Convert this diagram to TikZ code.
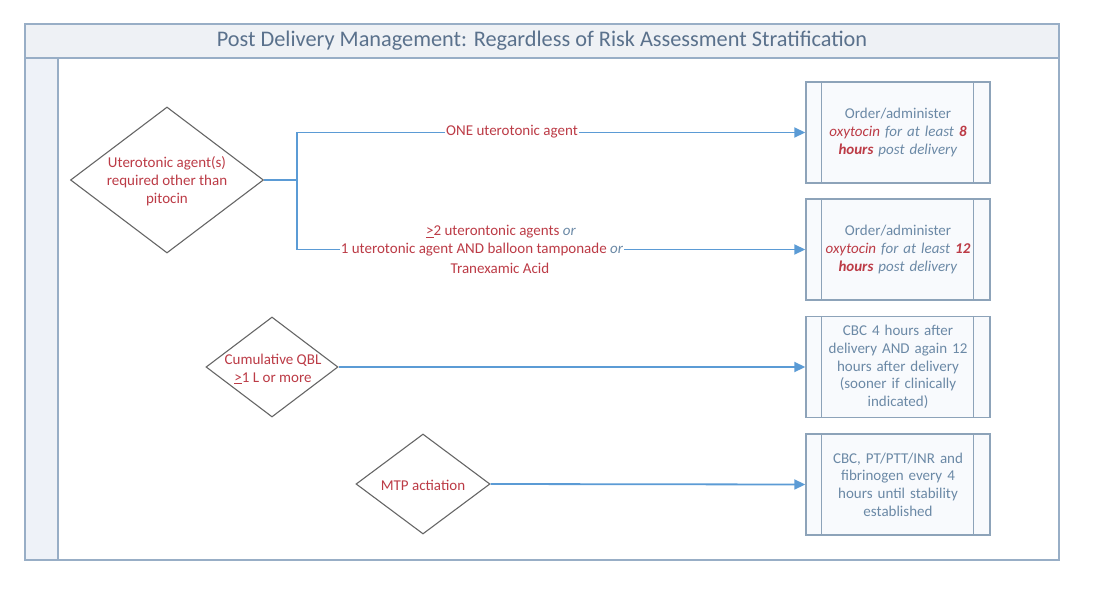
\documentclass[tikz,border=0pt]{standalone}
\usepackage{fontspec}
\setmainfont{Carlito}
\usetikzlibrary{shapes.geometric,arrows.meta,calc}
\definecolor{framec}{HTML}{98AEC6}
\definecolor{lanefill}{HTML}{EEF2F8}
\definecolor{titlefill}{HTML}{EEF1F5}
\definecolor{titletext}{HTML}{5A718C}
\definecolor{boxline}{HTML}{8DA3B9}
\definecolor{boxtext}{HTML}{6B89A6}
\definecolor{boxfill}{HTML}{F8FAFD}
\definecolor{dtext}{HTML}{BC3B46}
\definecolor{dline}{HTML}{666666}
\definecolor{arrowc}{HTML}{5B9BD5}
\newcommand{\rd}[1]{\textcolor{dtext}{#1}}
\begin{document}
\begin{tikzpicture}[x=1pt,y=-1pt,
  every node/.style={font=\fontsize{15}{18}\selectfont},
  decision/.style={diamond, draw=dline, line width=1.1pt, fill=white, inner sep=0pt},
  dlabel/.style={align=center, text=dtext, inner sep=0pt},
  procbox/.style={rectangle, draw=boxline, line width=1.4pt, fill=boxfill,
    minimum width=184pt, minimum height=101pt, inner sep=0pt, text width=152pt,
    align=center, text=boxtext, font=\fontsize{15}{17.7}\selectfont},
  flow/.style={draw=arrowc, line width=1.8pt, -{Triangle[length=11pt,width=10pt]}},
  flowplain/.style={draw=arrowc, line width=1.8pt},
  elabel/.style={text=dtext, inner sep=1pt, align=center}]
\useasboundingbox (0,0) rectangle (1095,592);
% swimlane frame
\path[fill=titlefill] (25,24) rectangle (1059,58);
\path[fill=lanefill] (25,58) rectangle (58,560);
\draw[framec, line width=1.4pt] (25,24) rectangle (1059,560);
\draw[framec, line width=1.4pt] (25,58) -- (1059,58);
\draw[framec, line width=1.4pt] (58,58) -- (58,560);
\node[text=titletext, font=\fontsize{22.3}{26}\selectfont] (title) at (542,41)
  {Post Delivery Management: Regardless of Risk Assessment Stratification};
% decisions
\node[decision, minimum width=193pt, minimum height=146pt] (d1) at (167,180) {};
\node[dlabel] (d1t) at (167,181) {Uterotonic agent(s)\\required other than\\pitocin};
\node[decision, minimum width=132pt, minimum height=100pt] (d2) at (272,367) {};
\node[dlabel] (d2t) at (273,369) {Cumulative QBL\\\underline{>}1 L or more};
\node[decision, minimum width=134pt, minimum height=100pt] (d3) at (423,484) {};
\node[dlabel] (d3t) at (423,485) {MTP actiation};
% process boxes
\node[procbox] (b1) at (898,132.5)
  {Order/administer\\\rd{\textit{oxytocin}} \textit{for at least} \rd{\textbf{\textit{8}}}\\\rd{\textbf{\textit{hours}}} \textit{post delivery}};
\node[procbox] (b2) at (898,249.5)
  {Order/administer\\\rd{\textit{oxytocin}} \textit{for at least} \rd{\textbf{\textit{12}}}\\\rd{\textbf{\textit{hours}}} \textit{post delivery}};
\node[procbox] (b3) at (898,367)
  {CBC 4 hours after\\delivery AND again 12\\hours after delivery\\(sooner if clinically\\indicated)};
\node[procbox] (b4) at (898,484.5)
  {CBC, PT/PTT/INR and\\fibrinogen every 4\\hours until stability\\established};
\foreach \b in {b1,b2,b3,b4}{
  \draw[boxline, line width=1.4pt] ($(\b.north west)+(16,0)$) -- ($(\b.south west)+(16,0)$);
  \draw[boxline, line width=1.4pt] ($(\b.north east)+(-17,0)$) -- ($(\b.south east)+(-17,0)$);
}
% connectors
\coordinate (j1) at (297,180);
\draw[flowplain] (d1.east) -- (j1);
\draw[flow] (j1) |- (b1.west);
\draw[flow] (j1) |- (b2.west);
\draw[flow] (d2.east) -- (b3.west);
\draw[flow] (d3.east) -- (b4.west);
% connector labels
\node[elabel, fill=white] (l1) at (512,132) {ONE uterotonic agent};
\node[elabel] (l2a) at (501,232) {\underline{>}2 uterontonic agents \textcolor{boxtext}{\textit{or}}};
\node[elabel, fill=white] (l2b) at (482,250) {1 uterotonic agent AND balloon tamponade \textcolor{boxtext}{\textit{or}}};
\node[elabel] (l2c) at (500,268) {Tranexamic Acid};
\end{tikzpicture}
\end{document}
